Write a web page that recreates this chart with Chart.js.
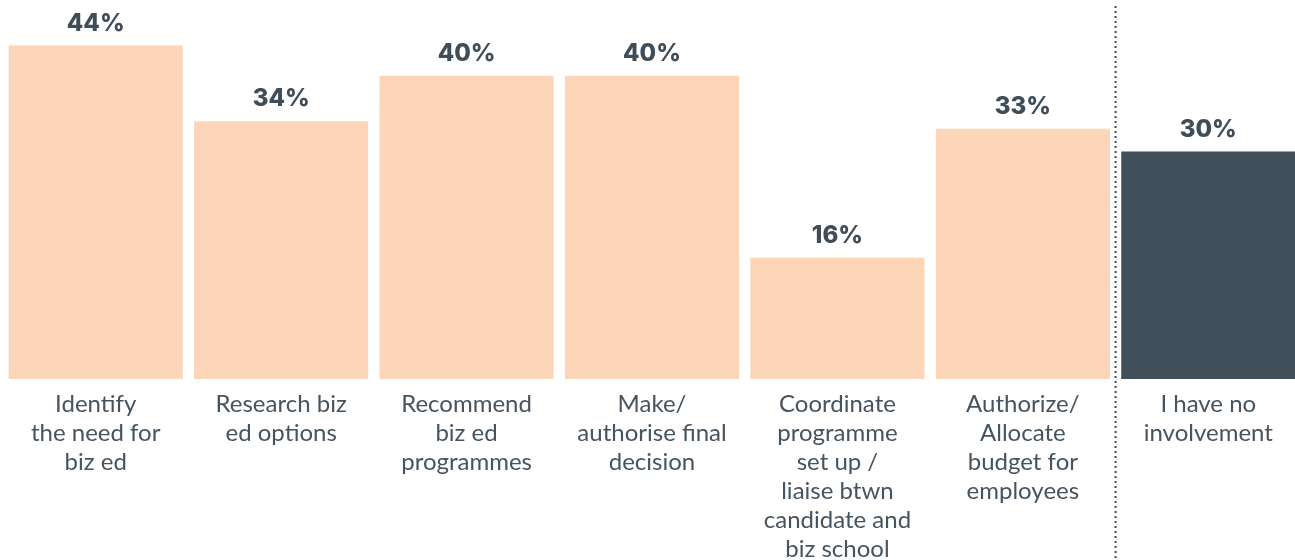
<!DOCTYPE html>
<html>
<head>
<meta charset="utf-8">
<script src="https://cdn.jsdelivr.net/npm/chart.js@4.4.0/dist/chart.umd.min.js"></script>
<style>
    html, body { margin: 0; padding: 0; background: #ffffff; overflow: hidden; }
    #wrap { position: absolute; left: 3px; top: 0; width: 1298px; height: 560px; }
</style>
</head>
<body>
<div id="wrap"><canvas id="grafico"></canvas></div>
<script>
// Dados do gráfico
const categorias = [
    ['Identify', 'the need for', 'biz ed'],
    ['Research biz', 'ed options'],
    ['Recommend', 'biz ed', 'programmes'],
    ['Make/', 'authorise final', 'decision'],
    ['Coordinate', 'programme', 'set up /', 'liaise btwn', 'candidate and', 'biz school'],
    ['Authorize/', 'Allocate', 'budget for', 'employees'],
    ['I have no', 'involvement']
];
const valores = [44, 34, 40, 40, 16, 33, 30];
const cores = ['#fdd5b8', '#fdd5b8', '#fdd5b8', '#fdd5b8', '#fdd5b8', '#fdd5b8', '#414f5a'];

// Rótulos de valor acima das barras
const rotulosPlugin = {
    id: 'rotulos',
    afterDatasetsDraw(chart) {
        const ctx = chart.ctx;
        const meta = chart.getDatasetMeta(0);
        ctx.save();
        ctx.font = '800 24px Inter';
        ctx.fillStyle = '#3f4d58';
        ctx.textAlign = 'center';
        ctx.textBaseline = 'middle';
        meta.data.forEach((bar, i) => {
            ctx.fillText(valores[i] + '%', bar.x, bar.y - 22);
        });
        ctx.restore();
    }
};

// Linha pontilhada separando a última categoria
const separadorPlugin = {
    id: 'separador',
    afterDraw(chart) {
        const ctx = chart.ctx;
        const x = chart.scales.x;
        const pos = (x.getPixelForValue(5) + x.getPixelForValue(6)) / 2;
        ctx.save();
        ctx.strokeStyle = '#414f5a';
        ctx.lineWidth = 2;
        ctx.setLineDash([2, 3]);
        ctx.beginPath();
        ctx.moveTo(pos, 6);
        ctx.lineTo(pos, 560);
        ctx.stroke();
        ctx.restore();
    }
};

const graficoBarra = new Chart(document.getElementById('grafico'), {
    type: 'bar',
    data: {
        labels: categorias,
        datasets: [{
            data: valores,
            backgroundColor: cores,
            borderWidth: 0,
            barPercentage: 0.939,
            categoryPercentage: 1.0
        }]
    },
    options: {
        responsive: true,
        maintainAspectRatio: false,
        animation: false,
        layout: { padding: 0 },
        plugins: {
            legend: { display: false },
            tooltip: { enabled: false }
        },
        scales: {
            x: {
                grid: { display: false, drawTicks: false },
                border: { display: false },
                ticks: {
                    color: '#46545f',
                    font: { family: 'Lato', size: 24, lineHeight: 1.21 },
                    padding: 11,
                    maxRotation: 0,
                    autoSkip: false
                },
                afterFit(scale) { scale.height = 181; }
            },
            y: {
                display: false,
                min: 0,
                max: 50
            }
        }
    },
    plugins: [rotulosPlugin, separadorPlugin]
});
</script>
</body>
</html>
